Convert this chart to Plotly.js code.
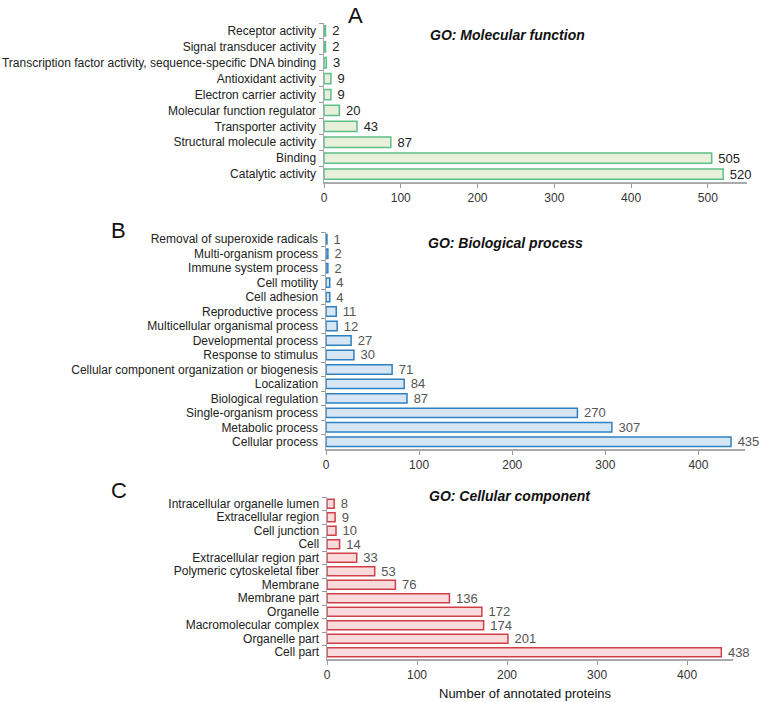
<!DOCTYPE html>
<html>
<head>
<meta charset="utf-8">
<script src="https://cdn.plot.ly/plotly-3.0.1.min.js"></script>
<style>
  body { margin: 0; background: #fff; }
  #grafica { width: 760px; height: 702px; }
</style>
</head>
<body>
<div id="grafica"></div>
<script>
// GO: Molecular function (top to bottom)
const mfTerms = [
  'Receptor activity', 'Signal transducer activity',
  'Transcription factor activity, sequence-specific DNA binding',
  'Antioxidant activity', 'Electron carrier activity', 'Molecular function regulator',
  'Transporter activity', 'Structural molecule activity', 'Binding', 'Catalytic activity'
];
const mfCounts = [2, 2, 3, 9, 9, 20, 43, 87, 505, 520];

// GO: Biological process
const bpTerms = [
  'Removal of superoxide radicals', 'Multi-organism process', 'Immune system process',
  'Cell motility', 'Cell adhesion', 'Reproductive process', 'Multicellular organismal process',
  'Developmental process', 'Response to stimulus',
  'Cellular component organization or biogenesis', 'Localization', 'Biological regulation',
  'Single-organism process', 'Metabolic process', 'Cellular process'
];
const bpCounts = [1, 2, 2, 4, 4, 11, 12, 27, 30, 71, 84, 87, 270, 307, 435];

// GO: Cellular component
const ccTerms = [
  'Intracellular organelle lumen', 'Extracellular region', 'Cell junction', 'Cell',
  'Extracellular region part', 'Polymeric cytoskeletal fiber', 'Membrane', 'Membrane part',
  'Organelle', 'Macromolecular complex', 'Organelle part', 'Cell part'
];
const ccCounts = [8, 9, 10, 14, 33, 53, 76, 136, 172, 174, 201, 438];

const xTicks = [0, 100, 200, 300, 400, 500];

const fuente = 'Liberation Sans, Arial, sans-serif';

function barra(terms, counts, xa, ya, fill, line, textColor) {
  return {
    type: 'bar',
    orientation: 'h',
    y: terms,
    x: counts,
    xaxis: xa,
    yaxis: ya,
    marker: { color: fill, line: { color: line, width: 1.5 } },
    text: counts.map(String),
    texttemplate: ' %{text}',
    textposition: 'outside',
    constraintext: 'none',
    textfont: { family: fuente, size: 13, color: textColor },
    cliponaxis: false,
    hoverinfo: 'x+y'
  };
}

const data = [
  barra(mfTerms, mfCounts, 'x', 'y', '#e8f0dc', '#5cbf88', '#222'),
  barra(bpTerms, bpCounts, 'x2', 'y2', '#d6e6f5', '#2f80c2', '#555'),
  barra(ccTerms, ccCounts, 'x3', 'y3', '#fbdadc', '#d0404a', '#555')
];

function ejeX(domain, range, anchor) {
  return {
    domain: domain, range: range, anchor: anchor,
    tickvals: xTicks, ticks: 'outside', ticklen: 4, tickcolor: '#999',
    showline: true, linecolor: '#aaa', linewidth: 1.5,
    showgrid: false, zeroline: false,
    tickfont: { family: fuente, size: 12, color: '#333' },
    fixedrange: true
  };
}

function ejeY(domain, anchor) {
  return {
    domain: domain, anchor: anchor, autorange: 'reversed',
    dtick: 1, ticks: 'outside', ticklen: 4, tickcolor: '#999', tickson: 'boundaries',
    ticklabelstandoff: 4,
    showline: true, linecolor: '#aaa', linewidth: 1.5,
    showgrid: false, zeroline: false,
    tickfont: { family: fuente, size: 12, color: '#222' },
    fixedrange: true
  };
}

const W = 760, H = 702;
const px = (a, b) => [a / W, b / W];
const py = (top, bottom) => [1 - bottom / H, 1 - top / H];

function nota(text, x, y, size) {
  return {
    text: text, x: x / W, y: 1 - y / H, xref: 'paper', yref: 'paper',
    xanchor: 'center', yanchor: 'middle', showarrow: false,
    font: { family: fuente, size: size, color: '#111' }
  };
}

const layout = {
  width: W, height: H,
  margin: { l: 0, r: 0, t: 0, b: 0 },
  paper_bgcolor: '#fff', plot_bgcolor: '#fff',
  showlegend: false,
  bargap: 0.35,
  font: { family: fuente },
  xaxis: ejeX(px(324, 747), [0, 551], 'y'),
  yaxis: ejeY(py(23, 182), 'x'),
  xaxis2: ejeX(px(326, 745), [0, 450], 'y2'),
  yaxis2: ejeY(py(232, 449), 'x2'),
  xaxis3: ejeX(px(327, 733), [0, 451], 'y3'),
  yaxis3: ejeY(py(497, 659), 'x3'),
  annotations: [
    nota('A', 355, 16, 22),
    nota('B', 118, 231, 22),
    nota('C', 119, 490, 22),
    nota('<b><i>GO: Molecular function</i></b>', 507, 35, 14),
    nota('<b><i>GO: Biological process</i></b>', 506, 243, 14),
    nota('<b><i>GO: Cellular component</i></b>', 510, 496, 14),
    nota('Number of annotated proteins', 525, 693, 13)
  ]
};

Plotly.newPlot('grafica', data, layout, { displayModeBar: false, staticPlot: true });
</script>
</body>
</html>
